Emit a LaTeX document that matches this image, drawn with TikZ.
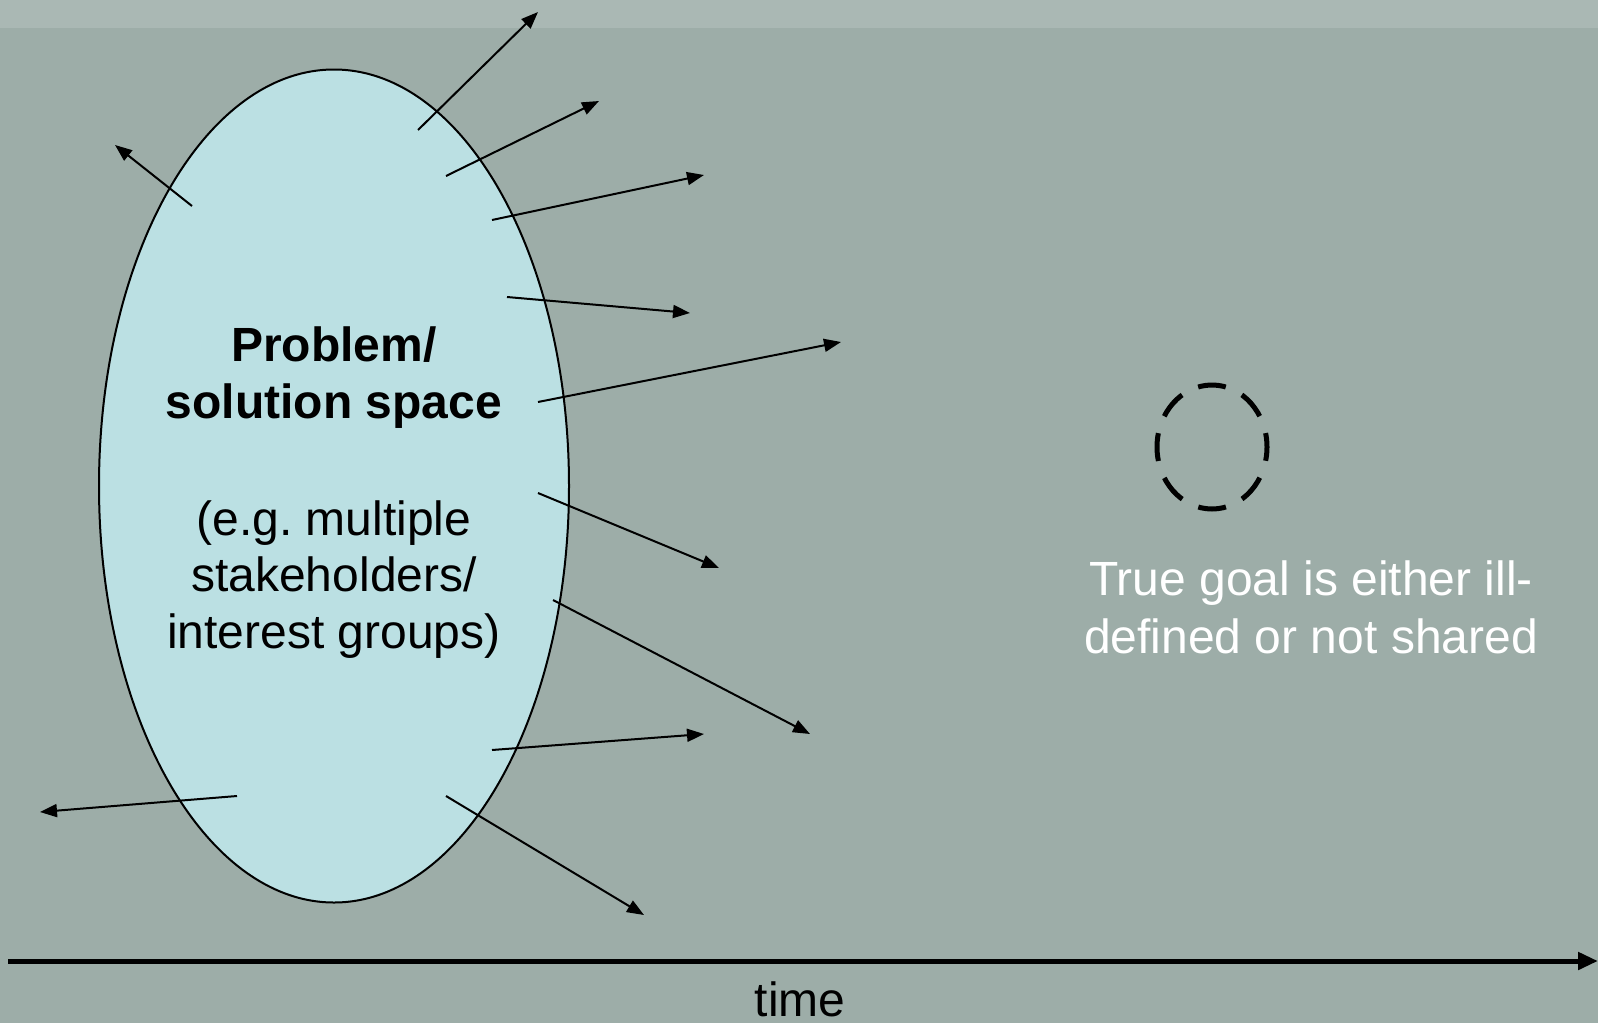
\documentclass[tikz,border=0pt]{standalone}
\usepackage{fontspec}
\setmainfont{Liberation Sans}
\usetikzlibrary{shapes.geometric,arrows.meta}
\definecolor{bgc}{RGB}{157,173,168}
\definecolor{bandc}{RGB}{170,184,180}
\definecolor{ellc}{RGB}{187,224,227}
\tikzset{
  spoke/.style={line width=2pt,-{Triangle[length=17pt,width=13pt]}},
  lbl/.style={anchor=base,inner sep=0pt,font=\fontsize{48}{56}\selectfont},
  blbl/.style={lbl,font=\fontsize{48}{56}\selectfont\bfseries},
}
\frenchspacing
\begin{document}
\begin{tikzpicture}[x=1pt,y=-1pt]
\fill[bgc] (0,0) rectangle (1598,1023);
\fill[bandc] (0,0) rectangle (1598,28);
\useasboundingbox (0,0) rectangle (1598,1023);
\node[ellipse,draw,line width=2pt,fill=ellc,minimum width=470pt,minimum height=833pt,inner sep=0pt] (sp) at (334,486) {};
\node[blbl] (t1) at (334,361) {Problem/};
\node[blbl] (t2) at (334,418) {solution space};
\node[lbl] (t3) at (334,535) {(e.g.\ multiple};
\node[lbl] (t4) at (334,591) {stakeholders/};
\node[lbl] (t5) at (334,648) {interest groups)};
\node[lbl,text=white] (g1) at (1311,595) {True goal is either ill-};
\node[lbl,text=white] (g2) at (1311,653) {defined or not shared};
\node[lbl] (tm) at (800,1016) {time};
\node[ellipse,draw,line width=5pt,dash pattern=on 28pt off 18pt,dash phase=14pt,minimum width=110pt,minimum height=124pt,inner sep=0pt] (goal) at (1212,447) {};
% spokes
\foreach \i/\a/\b/\c/\d in {1/418/130/538/12, 2/446/176/599/101, 3/492/220/704/175, 4/507/297/690/313, 5/538/402/841/342, 6/538/493/719/568, 7/553/600/810/734, 8/492/750/704/734, 9/446/796/644/915, 10/192/206/115/145, 11/237/796/40/812}{
  \coordinate (s\i) at (\a,\b);
  \coordinate (e\i) at (\c,\d);
  \draw[spoke] (s\i) -- (e\i);
}
\coordinate (ta) at (8,961);
\coordinate (tb) at (1598,961);
\draw[line width=5pt,-{Triangle[length=20pt,width=17pt]}] (ta) -- (tb);
\end{tikzpicture}
\end{document}
